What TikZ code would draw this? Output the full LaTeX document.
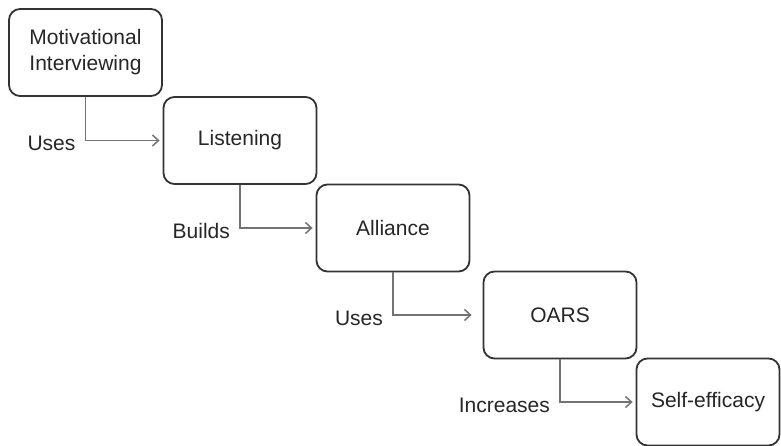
\documentclass[tikz,border=0pt]{standalone}
\usepackage{fontspec}
\setmainfont{Liberation Sans}
\usetikzlibrary{arrows.meta,shapes}

\begin{document}
\begin{tikzpicture}[x=1pt, y=-1pt]
	\tikzstyle{every node} = [font=\fontsize{21}{26}\selectfont, text=black!85]
	\tikzstyle{stage} = [rectangle, rounded corners=11pt, draw=black!80, line width=1.8pt, minimum width=153pt, minimum height=87pt, align=center]
	\tikzstyle{link} = [-{Straight Barb[length=6pt, width=11pt]}, draw=black!55, line width=1.5pt, shorten >=3pt]
	\tikzstyle{verb} = [anchor=east, xshift=-6pt, yshift=-3pt]
	\useasboundingbox (0,0) rectangle (781,446);
	\node [stage] (mi)       at (85.5, 52.5) {Motivational\\Interviewing};
	\node [stage] (listen)   at (240, 140.5) {Listening};
	\node [stage] (alliance) at (393, 228)   {Alliance};
	\node [stage] (oars)     at (560, 315)   {OARS};
	\node [stage, minimum width=143pt] (self) at (708, 402) {Self-efficacy};
	\draw [link]   (mi.south) |- node [verb] {Uses} (listen.west);
	\draw [link]   (listen.south) |- node [verb] {Builds} (alliance.west);
	\draw [link, shorten >=11pt] (alliance.south) |- node [verb] {Uses} (oars.west);
	\draw [link]   (oars.south) |- node [verb] {Increases} (self.west);
\end{tikzpicture}
\end{document}
